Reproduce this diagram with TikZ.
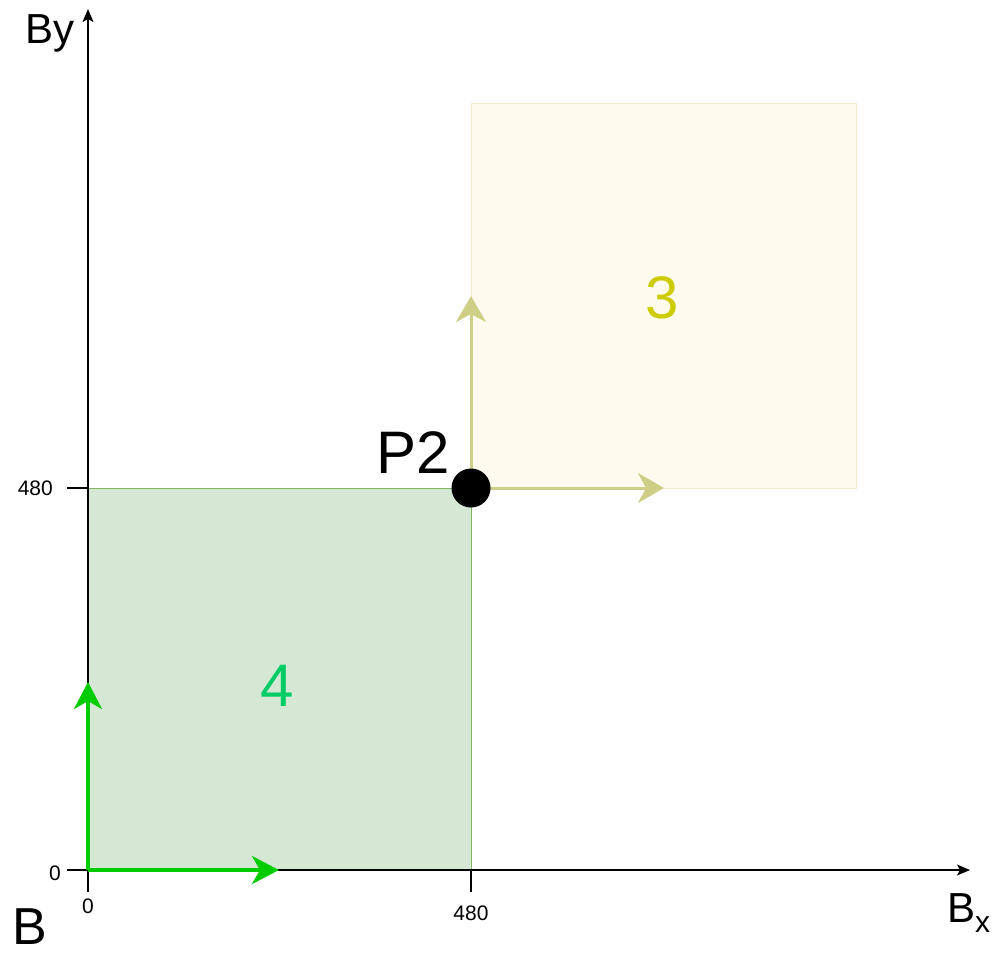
\documentclass[tikz,border=0pt]{standalone}
\usepackage{fontspec}
\setmainfont{Liberation Sans}
\usetikzlibrary{arrows.meta}
\definecolor{gfill}{HTML}{D5E8D4}
\definecolor{gline}{HTML}{82B366}
\definecolor{yfill}{HTML}{FEFAEE}
\definecolor{yline}{HTML}{F8EBC4}
\definecolor{garrow}{HTML}{00CC00}
\definecolor{yarrow}{RGB}{206,206,134}
\definecolor{ytext}{HTML}{CCCC00}
\definecolor{gtext}{HTML}{00CC66}
\tikzset{
  axis/.style={line width=1.3pt,black,-{Stealth[length=13pt,width=11pt,inset=3pt]}},
  tick/.style={line width=1.3pt,black},
  ticklabel/.style={inner sep=0pt,font=\fontsize{21}{21}\selectfont},
  greenvec/.style={line width=4pt,garrow,-{Stealth[length=27pt,width=28pt,inset=8pt]}},
  yellowvec/.style={line width=3pt,yarrow,-{Stealth[length=26pt,width=30pt,inset=8pt]}},
  bigtext/.style={inner sep=0pt}
}
\begin{document}
\begin{tikzpicture}[x=1pt,y=-1pt]
\useasboundingbox (0,0) rectangle (994,954);
% squares
\fill[gfill] (88,488) rectangle (471,870);
\draw[gline,line width=1pt] (88,488) -- (471,488) -- (471,870);
\node[draw=yline,fill=yfill,line width=1pt,minimum width=385pt,minimum height=385pt,inner sep=0pt] (sq3) at (663.5,295.5) {};
% axes
\coordinate (xs) at (67,870);
\coordinate (xe) at (970,870);
\coordinate (ys) at (88,892);
\coordinate (ye) at (88,9);
\draw[axis] (xs) -- (xe);
\draw[axis] (ys) -- (ye);
\coordinate (t1a) at (67,488); \coordinate (t1b) at (88,488);
\draw[tick] (t1a) -- (t1b);
\coordinate (t2a) at (471,870); \coordinate (t2b) at (471,892);
\draw[tick] (t2a) -- (t2b);
% tick labels
\node[ticklabel,anchor=base east] (l480y) at (53,495) {480};
\node[ticklabel,anchor=base east] (l0y) at (61,880) {0};
\node[ticklabel,anchor=base] (l0x) at (88,913) {0};
\node[ticklabel,anchor=base] (l480x) at (471,920) {480};
% vectors
\coordinate (o) at (88,870);
\coordinate (gx) at (279,870);
\coordinate (gy) at (88,682);
\draw[greenvec] (o) -- (gx);
\draw[greenvec] (o) -- (gy);
\coordinate (p) at (471,488);
\coordinate (yx) at (664,488);
\coordinate (yy) at (471,296);
\draw[yellowvec] (p) -- (yx);
\draw[yellowvec] (p) -- (yy);
\node[circle,fill=black,minimum size=39pt,inner sep=0pt] (dot) at (p) {};
% labels
\node[bigtext,anchor=base west,font=\fontsize{42}{42}\selectfont] (by) at (25,43) {By};
\node[bigtext,anchor=base west,font=\fontsize{52}{52}\selectfont] (b) at (12,944) {B};
\node[bigtext,anchor=base west,font=\fontsize{42}{42}\selectfont] (bx) at (947,922) {B\raisebox{-10pt}{\fontsize{30}{30}\selectfont x}};
\node[bigtext,anchor=base west,font=\fontsize{60}{60}\selectfont] (p2) at (376,473) {P2};
\node[bigtext,anchor=base,font=\fontsize{60}{60}\selectfont,text=ytext] (n3) at (662,318) {3};
\node[bigtext,anchor=base,font=\fontsize{60}{60}\selectfont,text=gtext] (n4) at (277,706) {4};
\end{tikzpicture}
\end{document}
